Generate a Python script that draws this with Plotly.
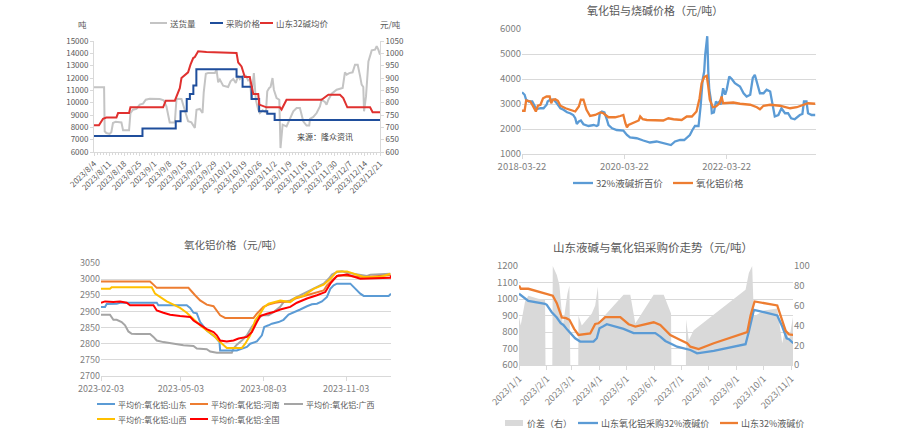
import plotly.graph_objects as go
import pandas as pd

W, H = 903, 440
FONT = "Noto Sans CJK SC, Noto Sans, sans-serif"

# ---------------- Panel 1 data (x in weeks from 2023/8/4, trading-day axis) ----------------
p1_labels = ["2023/8/4", "2023/8/11", "2023/8/18", "2023/8/25", "2023/9/1", "2023/9/8", "2023/9/15",
             "2023/9/22", "2023/9/29", "2023/10/12", "2023/10/19", "2023/10/26", "2023/11/2", "2023/11/9",
             "2023/11/16", "2023/11/23", "2023/11/30", "2023/12/7", "2023/12/14", "2023/12/21"]
ship_w = [0, 0.67, 0.71, 0.82, 1.04, 1.15, 1.26, 1.44, 1.82, 1.93,
          2.33, 2.42, 2.59, 2.82, 3.04, 3.26, 3.44, 3.7, 4.37, 4.63,
          4.81, 5.03, 5.37, 5.48, 5.81, 5.96, 6.1, 6.25, 6.47, 6.7,
          6.81, 7.03, 7.21, 7.29, 7.43, 7.58, 8.03, 8.14, 8.25, 8.36,
          8.58, 8.91, 9.07, 9.25, 9.42, 9.58, 9.69, 9.91, 10.09, 10.24,
          10.35, 10.47, 10.53, 10.62, 10.75, 10.91, 11.02, 11.2, 11.42, 11.51,
          11.64, 11.73, 11.86, 11.95, 12.13, 12.31, 12.39, 12.53, 12.79, 13.02,
          13.24, 13.46, 13.68, 13.9, 14.12, 14.3, 14.35, 14.57, 14.79, 15.01,
          15.12, 15.34, 15.45, 15.57, 15.79, 16.12, 16.52, 16.67, 16.78, 16.96,
          17.18, 17.34, 17.52, 17.67, 17.78, 17.89, 17.94, 18.07, 18.23, 18.45,
          18.67, 18.78, 18.89, 19]
ship_v = [11240, 11240, 7680, 7540, 7460, 7600, 8350, 8460, 8400, 7760,
          7760, 9160, 9430, 9490, 9840, 9920, 10240, 10320, 10300, 10190,
          9700, 8400, 8400, 10320, 10300, 9700, 9160, 8490, 8400, 7950,
          9430, 9490, 9160, 10840, 12350, 12400, 12400, 12680, 11650, 11870,
          11380, 11270, 11730, 11920, 11600, 12190, 11920, 12190, 12190, 11810,
          11870, 10240, 11320, 12400, 10240, 9430, 9160, 9380, 9220, 10920,
          11190, 11270, 12000, 11050, 10380, 10240, 6320, 8220, 8080, 8760,
          9300, 9570, 9570, 8490, 8140, 8140, 8680, 8840, 9160, 9700,
          10240, 10050, 9840, 10240, 10730, 11050, 11190, 12460, 12270, 12400,
          12460, 13080, 13080, 12190, 11460, 11270, 9300, 10510, 13350, 14240,
          14300, 14570, 14300, 13890]
buy_w = [0, 3.22, 5.43, 5.75, 6.16, 6.37, 6.6, 6.8, 9.47, 9.87, 10.47, 10.97, 11.51, 12.0, 19]
buy_v = [665, 695, 725, 765, 815, 835, 870, 935, 905, 865, 815, 765, 755, 730, 730]
sd_w = [0, 0.33, 0.6, 0.82, 1.49, 1.6, 2.33, 2.42, 4.59, 4.77, 5.37, 5.48, 5.7, 5.81, 6.03, 6.25, 6.41,
        6.59, 6.7, 6.92, 7.47, 8.8, 9.47, 9.58, 9.8, 10.02, 10.35, 10.58, 10.91, 10.98, 11.46, 12.35,
        12.46, 12.79, 15.12, 15.34, 15.57, 16.34, 16.56, 16.83, 18.34, 18.51, 19]
sd_v = [708, 708, 735, 740, 740, 758, 758, 781, 781, 808, 808, 825, 859, 900, 910, 923, 954,
        981, 985, 1008, 1005, 1003, 1001, 963, 947, 904, 904, 835, 835, 792, 781, 781,
        772, 812, 812, 822, 832, 832, 819, 781, 781, 761, 761]

# ---------------- Panel 2 data (decimal years) ----------------
caustic_yr = [2018.22, 2018.27, 2018.30, 2018.35, 2018.42, 2018.46, 2018.50, 2018.58, 2018.64, 2018.70,
              2018.72, 2018.77, 2018.84, 2018.90, 2018.97, 2019.03, 2019.10, 2019.16, 2019.22, 2019.26,
              2019.29, 2019.33, 2019.37, 2019.42, 2019.52, 2019.62, 2019.68, 2019.71, 2019.74, 2019.78,
              2019.83, 2019.87, 2019.91, 2019.98, 2020.07, 2020.20, 2020.27, 2020.33, 2020.46, 2020.59,
              2020.72, 2020.85, 2020.98, 2021.13, 2021.21, 2021.31, 2021.39, 2021.44, 2021.50, 2021.55,
              2021.60, 2021.67, 2021.71, 2021.75, 2021.78, 2021.80, 2021.83, 2021.84, 2021.86, 2021.88,
              2021.91, 2021.93, 2021.97, 2022.01, 2022.04, 2022.08, 2022.10, 2022.13, 2022.15, 2022.19,
              2022.22, 2022.27, 2022.32, 2022.38, 2022.48, 2022.55, 2022.61, 2022.68, 2022.73, 2022.77,
              2022.81, 2022.87, 2022.94, 2023.00, 2023.07, 2023.10, 2023.13, 2023.16, 2023.23, 2023.29,
              2023.36, 2023.42, 2023.48, 2023.55, 2023.65, 2023.70, 2023.73, 2023.78, 2023.81, 2023.88,
              2023.95]
caustic_v = [3470, 3370, 3170, 3100, 3100, 2930, 2790, 2830, 2830, 2970,
             3100, 3170, 3170, 3030, 2830, 2770, 2670, 2630, 2560, 2430,
             2200, 2300, 2340, 2190, 2120, 2160, 2120, 2160, 2630, 2700,
             2660, 2430, 2160, 2030, 1960, 1940, 1760, 1660, 1630, 1540,
             1460, 1500, 1430, 1360, 1500, 1560, 1560, 1670, 1760, 1960,
             2120, 2120, 2900, 3970, 4300, 4970, 5440, 5710, 4300, 3570,
             3170, 2630, 2660, 3100, 3030, 3100, 2970, 3300, 3630, 3370,
             3570, 4100, 4000, 3830, 3700, 3430, 3300, 3370, 4040, 4170,
             3900, 3430, 3430, 3570, 3500, 3170, 2770, 2500, 2560, 2830,
             2630, 2630, 2430, 2390, 2560, 2600, 3100, 3100, 2630, 2560,
             2560]
alumina_yr = [2018.22, 2018.27, 2018.30, 2018.38, 2018.43, 2018.49, 2018.53, 2018.58, 2018.63, 2018.70,
              2018.76, 2018.79, 2018.82, 2018.87, 2018.92, 2018.97, 2019.07, 2019.16, 2019.26, 2019.33,
              2019.37, 2019.42, 2019.48, 2019.55, 2019.65, 2019.75, 2019.81, 2019.91, 2020.04, 2020.14,
              2020.20, 2020.24, 2020.27, 2020.30, 2020.40, 2020.50, 2020.53, 2020.58, 2020.66, 2020.85,
              2020.98, 2021.08, 2021.18, 2021.34, 2021.44, 2021.54, 2021.63, 2021.69, 2021.73, 2021.78,
              2021.83, 2021.86, 2021.89, 2021.95, 2022.01, 2022.08, 2022.12, 2022.15, 2022.22, 2022.35,
              2022.48, 2022.68, 2022.81, 2022.87, 2022.94, 2023.07, 2023.26, 2023.46, 2023.59, 2023.72,
              2023.81, 2023.95]
alumina_v = [2730, 2730, 3140, 3100, 2930, 2700, 2930, 2970, 3230, 3300,
             3300, 3030, 3170, 3190, 3130, 2930, 2830, 2770, 2700, 2900,
             3170, 3170, 2770, 2520, 2560, 2660, 2630, 2470, 2470, 2520,
             2560, 2230, 2070, 2160, 2260, 2340, 2500, 2390, 2360, 2340,
             2340, 2430, 2390, 2360, 2500, 2500, 2700, 3230, 3830, 4080,
             4130, 3700, 3170, 2870, 2900, 3030, 3300, 3030, 3030, 3060,
             3010, 2970, 2870, 2790, 2930, 2970, 2930, 2830, 2870, 2970,
             3030, 3010]

# ---------------- Panel 3 data (days since 2023-02-03) ----------------
sdong_d = [0, 4.5, 6.3, 17.5, 21.2, 62.1, 63.9, 95.5, 99.3, 103, 106.7, 110.4, 117.8, 127.1, 132, 132.7,
           151.3, 162.5, 166.2, 173.6, 179.2, 181.8, 186.6, 190.3, 197.8, 203.3, 208.9, 214.5, 221.9,
           229.4, 234.9, 240.5, 246.1, 251.7, 255.4, 259.1, 262.8, 277.7, 281.4, 285.1, 288.8, 292.6,
           320.4, 323]
sdong_v = [2914, 2914, 2923, 2924, 2927, 2927, 2919, 2919, 2911, 2896, 2894, 2867, 2841, 2821, 2805, 2779,
           2779, 2790, 2800, 2807, 2826, 2852, 2857, 2862, 2867, 2874, 2890, 2898, 2906,
           2916, 2922, 2924, 2931, 2945, 2970, 2981, 2986, 2986, 2976, 2965, 2955, 2948,
           2948, 2955]
henan_d = [0, 54.6, 58.4, 62.1, 97.4, 101.1, 104.8, 110.4, 117.8, 125.3, 129, 132.7, 138.3, 169.9, 173.6,
           181, 186.6, 194, 199.6, 210.8, 216.4, 229.4, 236.8, 248, 251.7, 259.1, 264.7, 274, 285.1, 292.6,
           322.3]
henan_v = [2993, 2993, 2983, 2973, 2973, 2960, 2950, 2934, 2921, 2916, 2903, 2888, 2880, 2880, 2893,
           2914, 2921, 2927, 2929, 2931, 2940, 2950, 2955, 2965, 2981, 3001, 3012, 3010, 3007, 3007,
           3012]
guangxi_d = [0, 10, 13.8, 17.5, 23, 26.8, 30.5, 34.2, 39.8, 54.6, 58.4, 62.1, 69.5, 80.7, 91.8, 103,
             106.7, 117.8, 121.6, 129, 145.7, 147.6, 151.3, 156.9, 162.5, 168, 173.6, 179.2, 186.6, 192.2,
             199.6, 203.3, 210.8, 218.2, 225.7, 233.1, 240.5, 248, 253.5, 257.2, 262.8, 268.4, 274, 281.4,
             288.8, 296.3, 300, 322.3]
guangxi_v = [2890, 2890, 2874, 2874, 2867, 2857, 2838, 2831, 2830, 2830, 2821, 2810, 2805, 2800, 2795, 2793,
             2785, 2783, 2776, 2772, 2772, 2785, 2797, 2810, 2826, 2852, 2872, 2888, 2888, 2898,
             2914, 2929, 2934, 2945, 2955, 2965, 2976, 2986, 3001, 3014, 3022, 3024, 3020, 3017,
             3012, 3010, 3014, 3017]
shanxi_d = [0, 10, 11.9, 56.5, 60.2, 65.8, 73.2, 80.7, 88.1, 95.5, 103, 110.4, 117.8, 125.3, 130.9, 136.4,
            140.1, 156.9, 160.6, 166.2, 171.7, 177.3, 181.8, 186.6, 194, 199.6, 210.8, 216.4, 225.7, 236.8,
            248, 255.4, 262.8, 274, 281.4, 292.6, 311.2, 322.3]
shanxi_v = [2970, 2970, 2975, 2975, 2955, 2945, 2931, 2921, 2911, 2896, 2876, 2857, 2841, 2826, 2810, 2795,
            2787, 2787, 2800, 2826, 2872, 2893, 2914, 2924, 2931, 2934, 2929, 2942, 2948, 2970,
            2983, 3001, 3024, 3024, 3017, 3007, 3007, 3017]
nation_d = [0, 4.5, 13.8, 21.2, 28.6, 32.3, 58.4, 62.1, 69.5, 77, 88.1, 99.3, 103, 110.4, 117.8, 125.3,
            129, 132.7, 140.1, 147.6, 153.2, 162.5, 168, 173.6, 177.3, 184.8, 192.2, 199.6, 210.8, 218.2,
            229.4, 240.5, 249.8, 255.4, 262.8, 274, 281.4, 288.8, 322.3, 323.4]
nation_v = [2927, 2931, 2929, 2931, 2927, 2919, 2919, 2903, 2896, 2890, 2886, 2883, 2872, 2859, 2845, 2836,
            2826, 2810, 2807, 2810, 2816, 2821, 2836, 2867, 2886, 2893, 2898, 2906, 2914, 2927,
            2940, 2950, 2960, 2986, 3010, 3014, 3007, 3001, 3004, 3012]

# ---------------- Panel 4 data (days since 2023-01-01) ----------------
spread_d = [0, 1.9, 6.7, 10.4, 21.6, 29.1, 29.6, 37.2, 37.7, 42.2,
            45.1, 49.0, 54.1, 56.3, 57.3, 66.2, 66.4, 70.1, 81.3, 85.1,
            88.1, 89.6, 116.8, 124.3, 129.9, 150.4, 161.6, 169.8, 170.2, 186.4,
            186.6, 189.6, 195.1, 253.0, 256.7, 260.4, 262.3, 273.5, 288.4, 294.0,
            297.8, 301.5, 306.3]
spread_v = [49, 40, 64, 70, 67, 66, 0, 0, 100, 91,
            81, 40, 72, 80, 0, 0, 50, 40, 52, 60,
            79, 44, 71, 71, 42, 71, 71, 52, 0, 0,
            46, 25, 35, 76, 93, 100, 49, 55, 57, 22,
            39, 25, 50]
purch_d = [0, 10.4, 29.1, 31, 36.6, 42.2, 46.6, 49.6, 54.1, 57.1,
           62.7, 68.3, 83.2, 86.9, 89.9, 93.7, 98.1, 116.8, 128, 146.6,
           152.2, 157.8, 163.4, 170.9, 176.5, 191.4, 198.9, 217.5, 239.9, 253,
           256.7, 259.3, 262.3, 273.5, 288.4, 294, 298.9, 301.5, 306.3]
purch_v = [1032, 989, 971, 965, 920, 888, 853, 843, 813, 793,
           762, 742, 742, 762, 823, 833, 847, 819, 793, 793,
           793, 772, 746, 726, 711, 691, 671, 685, 711, 726,
           803, 859, 934, 920, 900, 833, 762, 756, 732]
sd32_d = [0, 1.9, 10.4, 29.1, 37.7, 42.2, 47.8, 52.6, 56.3, 61.6,
          66.4, 79.5, 85.1, 88.8, 96.3, 113.1, 122.4, 129.9, 142.9, 150.4,
          157.8, 163.4, 169, 180.2, 187.7, 191.4, 197, 200.7, 217.5, 239.9,
          254.9, 258.6, 263.1, 288.4, 292.9, 297.8, 301.5, 306.3]
sd32_v = [1082, 1062, 1062, 1030, 1020, 975, 888, 884, 874, 819,
          782, 791, 849, 853, 890, 890, 847, 833, 847, 859,
          843, 813, 782, 752, 732, 711, 705, 697, 732, 772,
          799, 900, 985, 961, 880, 807, 786, 782]
p4_ticks = ["2023-%02d-01" % m for m in range(1, 12)]
p4_ticktext = ["2023/%d/1" % m for m in range(1, 12)]


def yr_to_date(yrs):
    return list(pd.Timestamp("2018-01-01") + pd.to_timedelta([(y - 2018) * 365.25 for y in yrs], unit="D"))


def days_from(base, days):
    return list(pd.Timestamp(base) + pd.to_timedelta(days, unit="D"))


def px_x(p):
    return p / W


def px_y(p):
    return 1 - p / H


fig = go.Figure()

# Panel 1
fig.add_trace(go.Scatter(x=ship_w, y=ship_v, mode="lines", name="送货量",
                         line=dict(color="#c4c4c4", width=2), xaxis="x", yaxis="y"))
fig.add_trace(go.Scatter(x=buy_w, y=buy_v, mode="lines", name="采购价格", line_shape="hv",
                         line=dict(color="#1f4e9c", width=2), xaxis="x", yaxis="y2"))
fig.add_trace(go.Scatter(x=sd_w, y=sd_v, mode="lines", name="山东32碱均价",
                         line=dict(color="#e0312f", width=2), xaxis="x", yaxis="y2"))

# Panel 2
fig.add_trace(go.Scatter(x=yr_to_date(caustic_yr), y=caustic_v, mode="lines", name="32%液碱折百价",
                         line=dict(color="#5b9bd5", width=2.3), xaxis="x2", yaxis="y3"))
fig.add_trace(go.Scatter(x=yr_to_date(alumina_yr), y=alumina_v, mode="lines", name="氧化铝价格",
                         line=dict(color="#ed7d31", width=2.3), xaxis="x2", yaxis="y3"))

# Panel 3
p3 = [(guangxi_d, guangxi_v, "平均价:氧化铝:广西", "#a5a5a5"),
      (henan_d, henan_v, "平均价:氧化铝:河南", "#ed7d31"),
      (sdong_d, sdong_v, "平均价:氧化铝:山东", "#5b9bd5"),
      (shanxi_d, shanxi_v, "平均价:氧化铝:山西", "#ffc000"),
      (nation_d, nation_v, "平均价:氧化铝:全国", "#ff0000")]
for d, v, n, c in p3:
    fig.add_trace(go.Scatter(x=days_from("2023-02-03", d), y=v, mode="lines", name=n,
                             line=dict(color=c, width=2), xaxis="x3", yaxis="y4"))

# Panel 4
fig.add_trace(go.Scatter(x=days_from("2023-01-01", spread_d), y=spread_v, mode="lines", name="价差（右）",
                         fill="tozeroy", fillcolor="#d9d9d9", line=dict(width=0, color="#d9d9d9"),
                         xaxis="x4", yaxis="y5"))
fig.add_trace(go.Scatter(x=days_from("2023-01-01", purch_d), y=purch_v, mode="lines",
                         name="山东氧化铝采购32%液碱价", line=dict(color="#5b9bd5", width=2.3),
                         xaxis="x4", yaxis="y6"))
fig.add_trace(go.Scatter(x=days_from("2023-01-01", sd32_d), y=sd32_v, mode="lines",
                         name="山东32%液碱价", line=dict(color="#ed7d31", width=2.3),
                         xaxis="x4", yaxis="y6"))

AX = "#d9d9d9"
TC = "#595959"
TC2 = "#808080"
common = dict(automargin=False, zeroline=False)

fig.update_layout(
    width=W, height=H, margin=dict(l=0, r=0, t=0, b=0, pad=0, autoexpand=False),
    paper_bgcolor="white", plot_bgcolor="rgba(0,0,0,0)",
    font=dict(family=FONT, color=TC), showlegend=False,
    xaxis=dict(domain=[px_x(94), px_x(380)], anchor="y", range=[0, 19], tickmode="array",
               tickvals=list(range(20)), ticktext=p1_labels, tickangle=-45,
               tickfont=dict(size=8, color=TC), showline=True, linecolor=AX, ticks="outside",
               ticklen=3, tickcolor=AX, showgrid=False,
               minor=dict(tickmode="linear", tick0=0, dtick=0.2, ticks="outside", ticklen=2, tickcolor=AX),
               **common),
    yaxis=dict(domain=[px_y(152), px_y(41)], anchor="x", range=[6000, 15000], dtick=1000, tickformat="d",
               tickfont=dict(size=8, color=TC), showline=True, linecolor=AX, ticks="outside",
               ticklen=3, tickcolor=AX, showgrid=False, **common),
    yaxis2=dict(overlaying="y", side="right", anchor="x", range=[600, 1050], dtick=50, tickformat="d",
                tickfont=dict(size=8, color=TC), showline=True, linecolor=AX, ticks="outside",
                ticklen=3, tickcolor=AX, showgrid=False, **common),
    xaxis2=dict(domain=[px_x(522), px_x(816)], anchor="y3", type="date",
                range=["2018-03-22", "2023-12-20"], tickmode="array",
                tickvals=["2018-03-22", "2020-03-22", "2022-03-22"],
                ticktext=["2018-03-22", "2020-03-22", "2022-03-22"],
                tickfont=dict(size=9.5, color=TC2), showline=True, linecolor=AX, ticks="outside",
                ticklen=4, tickcolor=AX, showgrid=False, **common),
    yaxis3=dict(domain=[px_y(154), px_y(29)], anchor="x2", range=[1000, 6000], dtick=1000, tickformat="d",
                tickfont=dict(size=9.5, color=TC2), showgrid=True, gridcolor=AX, gridwidth=1,
                showline=False, **common),
    xaxis3=dict(domain=[px_x(101), px_x(391)], anchor="y4", type="date",
                range=["2023-02-03", "2023-12-23"], tickmode="array",
                tickvals=["2023-02-03", "2023-05-03", "2023-08-03", "2023-11-03"],
                ticktext=["2023-02-03", "2023-05-03", "2023-08-03", "2023-11-03"],
                tickfont=dict(size=9, color=TC2), showline=True, linecolor=AX, ticks="outside",
                ticklen=4, tickcolor=AX, showgrid=False, **common),
    yaxis4=dict(domain=[px_y(376), px_y(263)], anchor="x3", range=[2700, 3050], dtick=50, tickformat="d",
                tickfont=dict(size=9, color=TC2), showgrid=True, gridcolor=AX, gridwidth=1,
                showline=False, **common),
    xaxis4=dict(domain=[px_x(519), px_x(793)], anchor="y5", type="date",
                range=["2023-01-01", "2023-11-03"], tickmode="array", tickvals=p4_ticks,
                ticktext=p4_ticktext, tickangle=-45, tickfont=dict(size=9, color=TC2),
                showline=True, linecolor=AX, ticks="outside", ticklen=4, tickcolor=AX,
                showgrid=False, **common),
    yaxis5=dict(domain=[px_y(365), px_y(266)], anchor="x4", side="right", range=[0, 100], dtick=20,
                tickformat="d", tickfont=dict(size=9.5, color=TC2), showgrid=False, showline=False,
                **common),
    yaxis6=dict(overlaying="y5", anchor="x4", side="left", range=[600, 1200], dtick=100, tickformat="d",
                tickfont=dict(size=9.5, color=TC2), showgrid=True, gridcolor=AX, gridwidth=1,
                showline=False, **common),
)

shapes = []
annots = []


def ann(text, x, y, size, color=TC, xanchor="left"):
    annots.append(dict(text=text, x=px_x(x), y=px_y(y), xref="paper", yref="paper", xanchor=xanchor,
                       yanchor="middle", showarrow=False, font=dict(size=size, color=color, family=FONT)))


def leg_line(x0, x1, y, color, width, label, size):
    shapes.append(dict(type="line", xref="paper", yref="paper", x0=px_x(x0), x1=px_x(x1),
                       y0=px_y(y), y1=px_y(y), line=dict(color=color, width=width)))
    ann(label, x1 + 1, y, size)


# Panel 1 legend & units
leg_line(150, 167, 23, "#c4c4c4", 2, "送货量", 8.5)
leg_line(210, 223, 23, "#1f4e9c", 2, "采购价格", 8.5)
leg_line(260, 273, 23, "#e0312f", 2, "山东32碱均价", 8.5)
ann("吨", 82, 24, 8.5, xanchor="center")
ann("元/吨", 390, 24, 8.5, xanchor="center")
ann("来源：隆众资讯", 295, 136, 8, color="#404040")

# Panel 2 title & legend
ann("氧化铝与烧碱价格（元/吨）", 655, 10, 11, xanchor="center")
leg_line(573, 593, 183, "#5b9bd5", 2.3, "32%液碱折百价", 9.5)
leg_line(673, 693, 183, "#ed7d31", 2.3, "氧化铝价格", 9.5)

# Panel 3 title & legend
ann("氧化铝价格（元/吨）", 233, 244, 10.5, xanchor="center")
leg_line(97, 115, 404, "#5b9bd5", 2, "平均价:氧化铝:山东", 8)
leg_line(190, 208, 404, "#ed7d31", 2, "平均价:氧化铝:河南", 8)
leg_line(284, 303, 404, "#a5a5a5", 2, "平均价:氧化铝:广西", 8)
leg_line(97, 115, 419, "#ffc000", 2, "平均价:氧化铝:山西", 8)
leg_line(190, 208, 419, "#ff0000", 2, "平均价:氧化铝:全国", 8)

# Panel 4 title & legend
ann("山东液碱与氧化铝采购价走势（元/吨）", 653, 247, 11.5, xanchor="center")
shapes.append(dict(type="rect", xref="paper", yref="paper", x0=px_x(505), x1=px_x(523),
                   y0=px_y(426), y1=px_y(420), fillcolor="#d9d9d9", line=dict(width=0)))
ann("价差（右）", 525, 423, 9)
leg_line(578, 598, 423, "#5b9bd5", 2.3, "山东氧化铝采购32%液碱价", 9)
leg_line(720, 738, 423, "#ed7d31", 2.3, "山东32%液碱价", 9)

fig.update_layout(shapes=shapes, annotations=annots)
fig.write_html("out.html", config={"displayModeBar": False},
               post_script="document.body.style.margin='0px';document.body.style.overflow='hidden';")
